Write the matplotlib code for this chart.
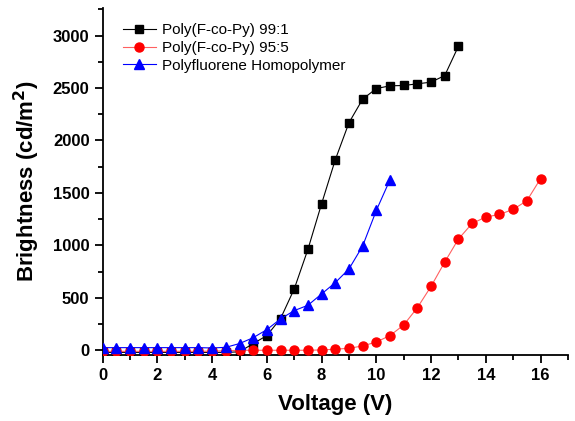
import numpy as np
import matplotlib
matplotlib.use('Agg')
import matplotlib.pyplot as plt
from matplotlib.ticker import MultipleLocator

plt.rcParams['font.family'] = ['Liberation Sans', 'DejaVu Sans']

# Poly(F-co-Py) 99:1
v_991 = [0, 0.5, 1, 1.5, 2, 2.5, 3, 3.5, 4, 4.5, 5, 5.5, 6, 6.5, 7, 7.5, 8, 8.5,
         9, 9.5, 10, 10.5, 11, 11.5, 12, 12.5, 13]
b_991 = [-20, -20, -20, -20, -20, -20, -20, -20, -20, -20, -15, 64, 140, 302, 585, 962, 1397, 1816,
         2169, 2394, 2495, 2521, 2524, 2540, 2556, 2619, 2898]

# Poly(F-co-Py) 95:5
v_955 = [0, 0.5, 1, 1.5, 2, 2.5, 3, 3.5, 4, 4.5, 5, 5.5, 6, 6.5, 7, 7.5, 8, 8.5,
         9, 9.5, 10, 10.5, 11, 11.5, 12, 12.5, 13, 13.5, 14, 14.5, 15, 15.5, 16]
b_955 = [-10, -10, -10, -10, -10, -10, -10, -10, -8, -5, 0, 0, 0, 0, 0, 0, 3, 10,
         19, 41, 79, 140, 241, 406, 609, 841, 1060, 1209, 1270, 1295, 1343, 1425, 1635]

# Polyfluorene Homopolymer
v_pf = [0, 0.5, 1, 1.5, 2, 2.5, 3, 3.5, 4, 4.5, 5, 5.5, 6, 6.5, 7, 7.5, 8, 8.5,
        9, 9.5, 10, 10.5]
b_pf = [25, 25, 25, 25, 25, 25, 25, 25, 22, 28, 64, 120, 197, 299, 378, 429, 537, 645,
        775, 994, 1333, 1626]

fig = plt.figure(figsize=(5.75, 4.21), dpi=100)
ax = fig.add_axes([0.1786, 0.1568, 0.809, 0.8235])

ax.plot(v_991, b_991, '-s', color='black', lw=0.8, ms=6, mfc='black', mec='black',
        label='Poly(F-co-Py) 99:1', zorder=2)
ax.plot(v_955, b_955, '-o', color='#ff6060', lw=0.8, ms=6.5, mfc='red', mec='red',
        label='Poly(F-co-Py) 95:5', zorder=3)
ax.plot(v_pf, b_pf, '-^', color='blue', lw=0.8, ms=7, mfc='blue', mec='blue',
        label='Polyfluorene Homopolymer', zorder=4)

ax.set_xlim(0, 17)
ax.set_ylim(-45, 3260)
ax.xaxis.set_major_locator(MultipleLocator(2))
ax.xaxis.set_minor_locator(MultipleLocator(1))
ax.yaxis.set_major_locator(MultipleLocator(500))
ax.yaxis.set_minor_locator(MultipleLocator(250))
ax.spines['top'].set_visible(False)
ax.spines['right'].set_visible(False)
for s in ('left', 'bottom'):
    ax.spines[s].set_linewidth(1.3)
ax.tick_params(which='major', direction='out', length=6, width=1.3, labelsize=12)
ax.tick_params(which='minor', direction='out', length=3.5, width=1.3)
for lab in ax.get_xticklabels() + ax.get_yticklabels():
    lab.set_fontweight('bold')

ax.set_xlabel('Voltage (V)', fontsize=16, fontweight='bold', labelpad=8)
ax.set_ylabel('Brightness (cd/m$^\\mathbf{2}$)', fontsize=16, fontweight='bold', labelpad=8)

ax.legend(loc='upper left', bbox_to_anchor=(0.03, 0.975), frameon=False, fontsize=11,
          handlelength=2.15, handletextpad=0.4, labelspacing=0.25, borderaxespad=0)

fig.savefig('out.png', dpi=100)
